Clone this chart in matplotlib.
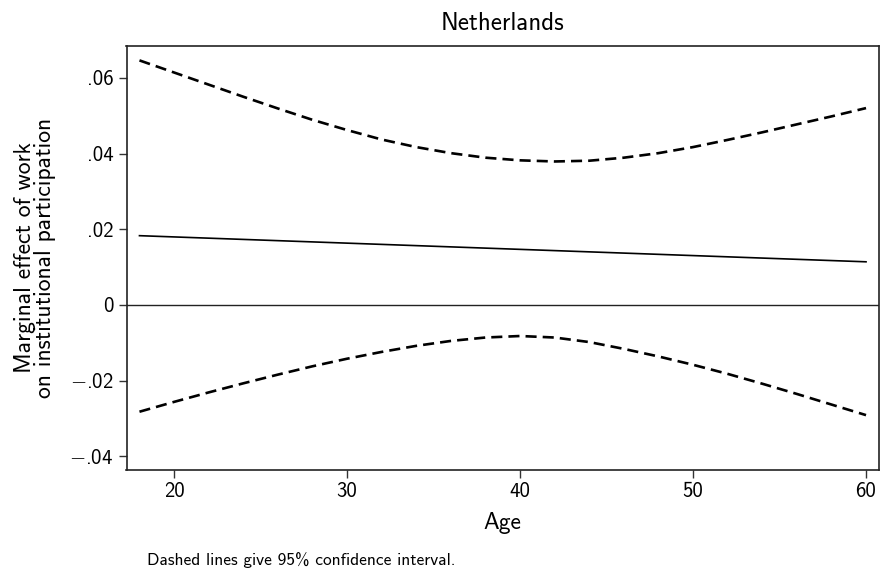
import matplotlib.pyplot as plt

plt.rcParams['font.family'] = ['cmss10', 'DejaVu Sans']
plt.rcParams['mathtext.fontset'] = 'cm'
plt.rcParams['axes.unicode_minus'] = False

# marginal effect of work by age, with 95% bounds
ages = [18, 20, 22, 24, 26, 28, 30, 32, 34, 36, 38, 40,
        42, 44, 46, 48, 50, 52, 54, 56, 58, 60]
upper = [0.0646, 0.0614, 0.0582, 0.0550, 0.0519, 0.0489, 0.0462, 0.0437,
         0.0417, 0.0401, 0.0389, 0.0382, 0.0379, 0.0381, 0.0389, 0.0401,
         0.0417, 0.0436, 0.0456, 0.0477, 0.0498, 0.0520]
lower = [-0.0282, -0.0256, -0.0231, -0.0207, -0.0184, -0.0162, -0.0142, -0.0124,
         -0.0108, -0.0095, -0.0086, -0.0082, -0.0086, -0.0098, -0.0116, -0.0136,
         -0.0158, -0.0182, -0.0208, -0.0235, -0.0263, -0.0291]
effect_ages = [18, 60]
effect = [0.0183, 0.0114]

xticks = [20, 30, 40, 50, 60]
yticks = [-0.04, -0.02, 0, 0.02, 0.04, 0.06]
ytick_labels = ['$-$.04', '$-$.02', '0', '.02', '.04', '.06']

fig = plt.figure(figsize=(8.8, 5.75), dpi=100)
W, H = 880, 575
ax = fig.add_axes([126.5 / W, 1 - 469.5 / H, (879 - 126.5) / W, (469.5 - 46) / H])

ax.axhline(0, color='#222222', lw=1.0, zorder=1)
ax.plot(effect_ages, effect, color='black', lw=1.2)
ax.plot(ages, upper, color='black', lw=1.9, dashes=(4.2, 2.3))
ax.plot(ages, lower, color='black', lw=1.9, dashes=(4.2, 2.3))

ax.set_xlim(17.25, 60.75)
ax.set_ylim(-0.04346, 0.0684)
ax.set_xticks(xticks)
ax.set_xticklabels([str(t) for t in xticks])
ax.set_yticks(yticks)
ax.set_yticklabels(ytick_labels)
ax.tick_params(axis='both', length=5.8, width=1.0, labelsize=15, pad=3.5, color='#333333')

for s in ax.spines.values():
    s.set_linewidth(1.2)
    s.set_color('#222222')

fig.text(502.7 / W, 1 - 23 / H, 'Netherlands', fontsize=18, ha='center', va='center')
ax.set_xlabel('Age', fontsize=17)
ax.xaxis.label.set_va('center')
ax.xaxis.set_label_coords(0.5, (469.5 - 523) / 423.5)
ax.set_ylabel('Marginal effect of work\non institutional participation', fontsize=17,
              linespacing=0.9)
ax.yaxis.label.set_va('center')
ax.yaxis.set_label_coords((35 - 126.5) / 752.5, 0.5)

fig.text(147 / W, 1 - 560 / H, 'Dashed lines give 95% confidence interval.',
         fontsize=12.5, va='center', ha='left')

fig.savefig('out.png', dpi=100)
